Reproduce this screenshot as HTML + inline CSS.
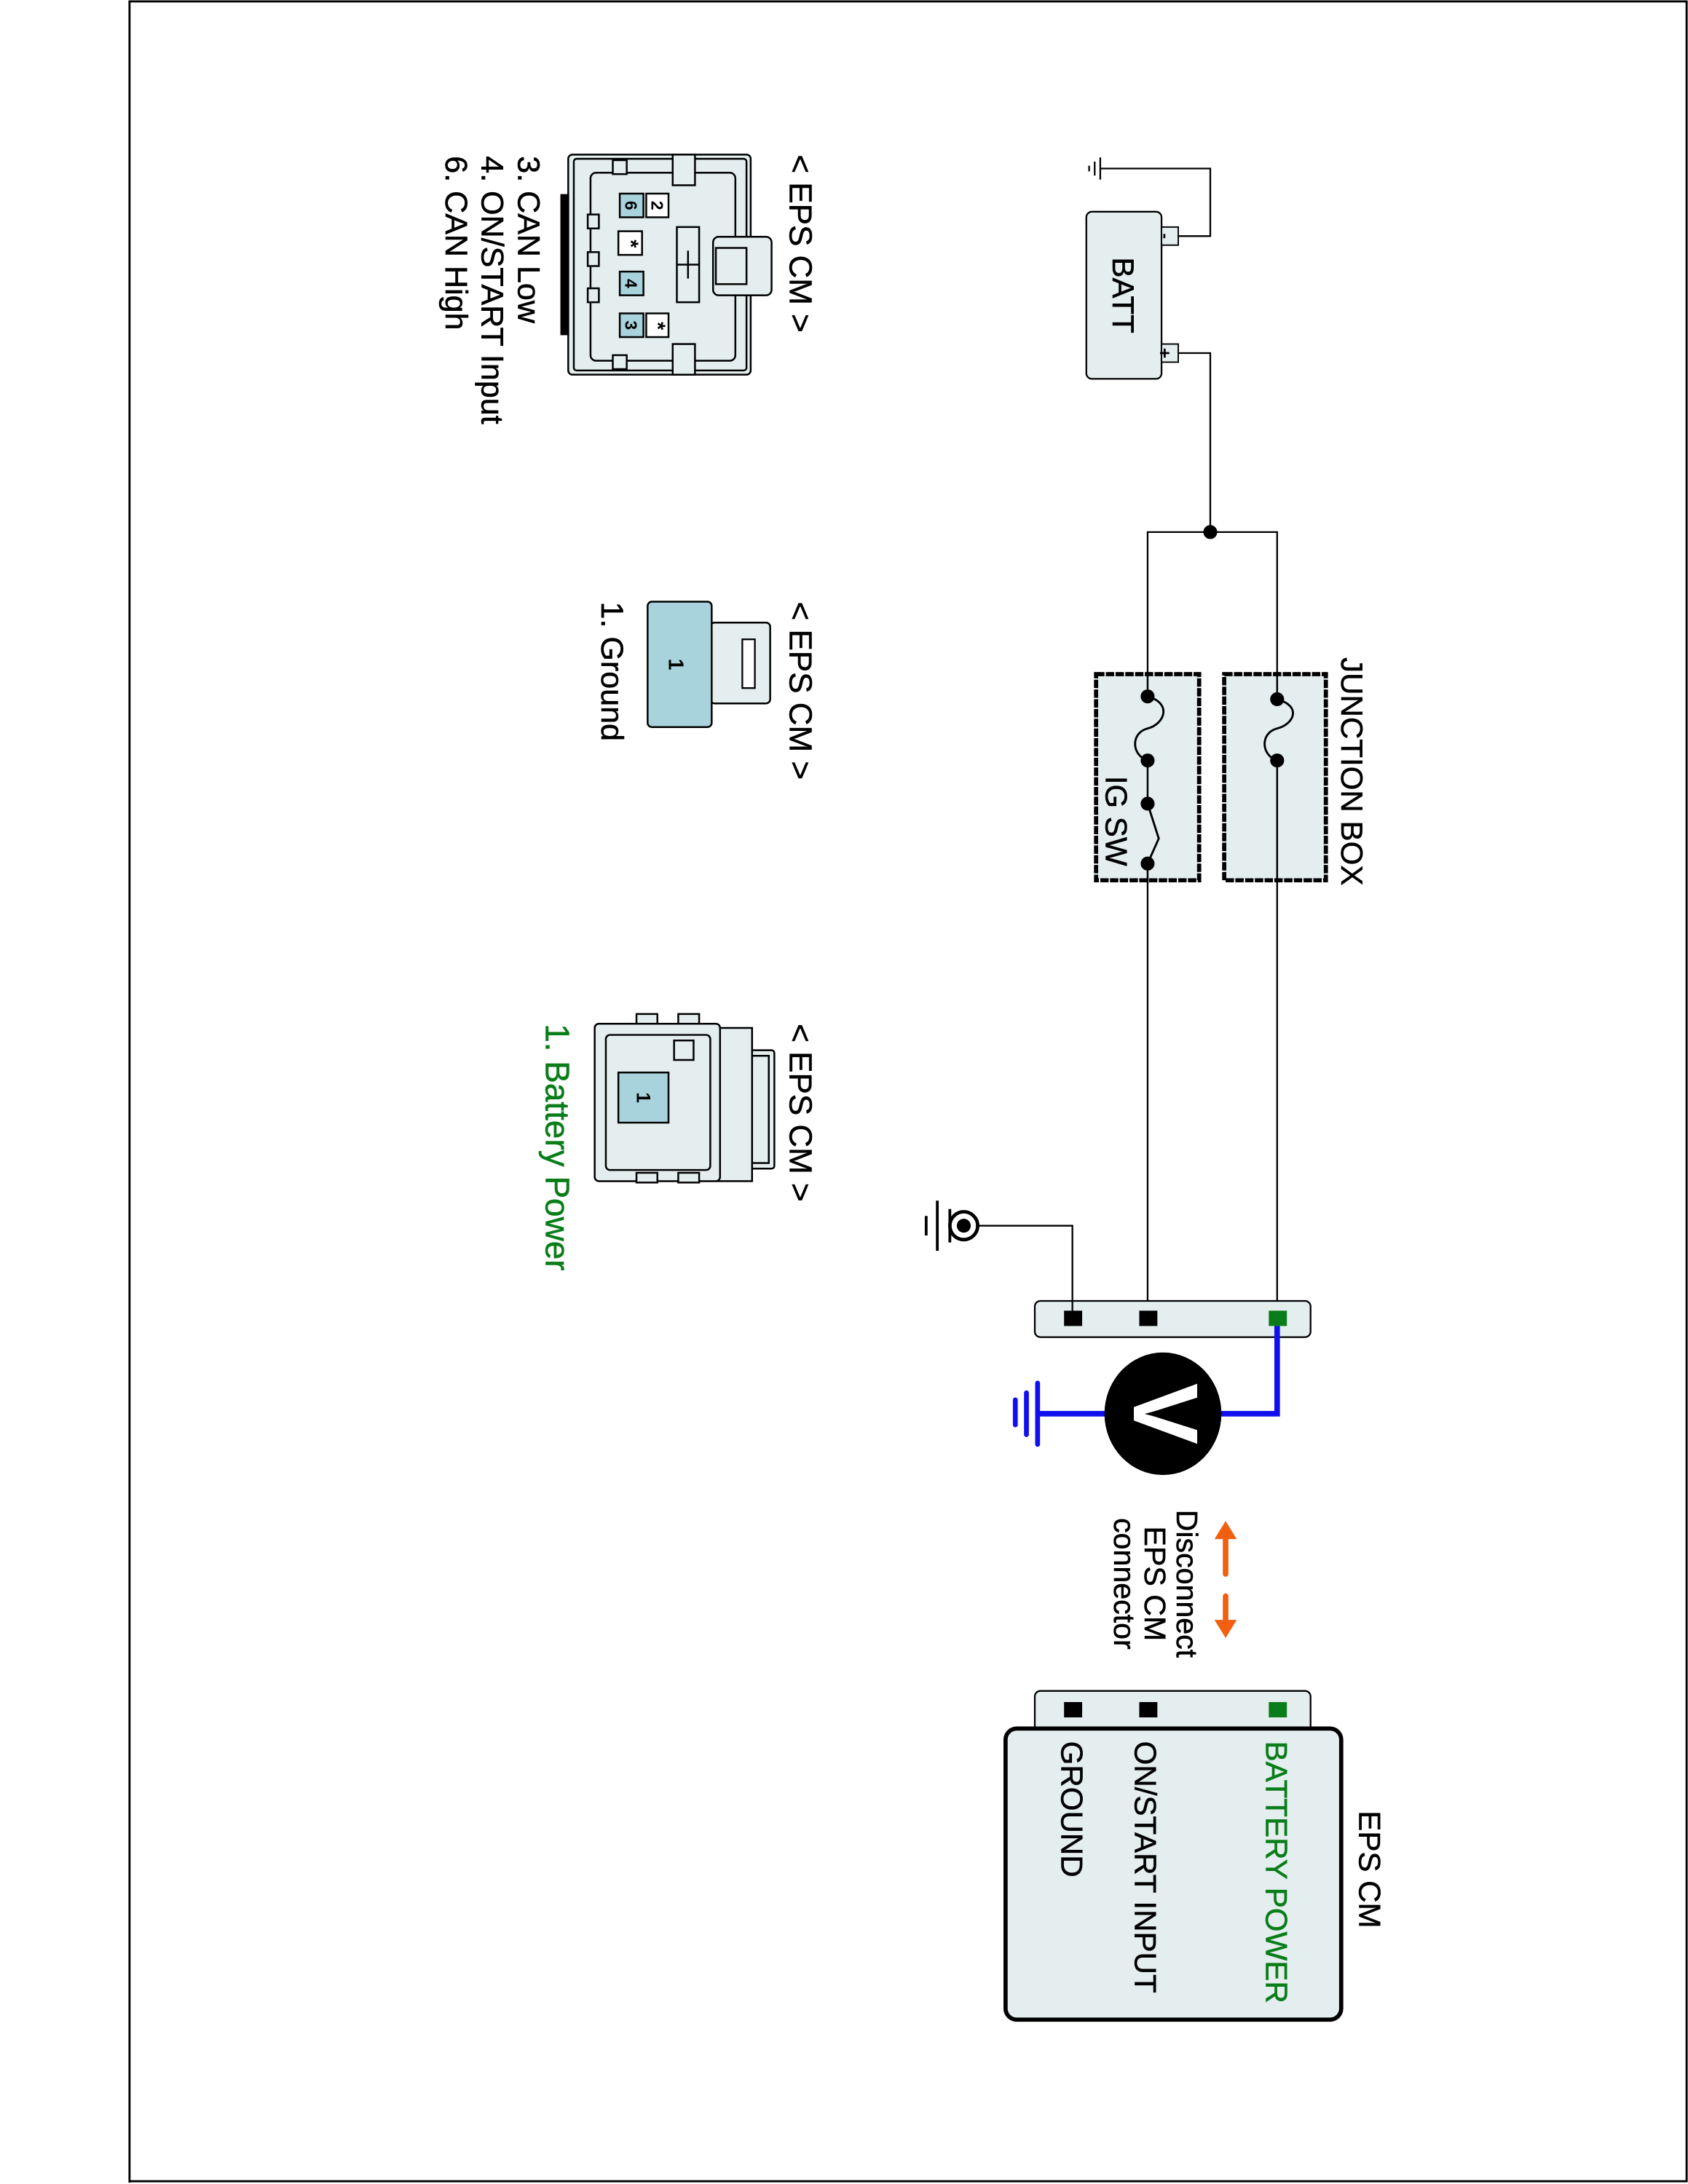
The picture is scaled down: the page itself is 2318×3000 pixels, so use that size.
<!DOCTYPE html>
<html><head><meta charset="utf-8"><style>
html,body{margin:0;padding:0;background:#fff}
svg{display:block}
text{font-family:"Liberation Sans",Arial,sans-serif}
</style></head><body>
<svg width="2318" height="3000" viewBox="0 0 1212 1568" preserveAspectRatio="none" xmlns="http://www.w3.org/2000/svg">
<rect x="0" y="0" width="1212" height="1568" fill="#fff"/>
<path d="M93,1567 V1 H1211 V1566 H93" fill="none" stroke="#000" stroke-width="1.5"/>

<!-- BATTERY -->
<rect x="780" y="152" width="54" height="120" rx="4" fill="#e4eeee" stroke="#000" stroke-width="1.2"/>
<rect x="834" y="163" width="12" height="13" fill="#e4eeee" stroke="#000" stroke-width="1"/>
<rect x="834" y="247" width="12" height="13" fill="#e4eeee" stroke="#000" stroke-width="1"/>
<text transform="translate(837,169.5) rotate(90)" font-size="12" font-weight="bold" text-anchor="middle" dominant-baseline="central">-</text>
<text transform="translate(836,253.5) rotate(90)" font-size="13" font-weight="bold" text-anchor="middle" dominant-baseline="central">+</text>
<text transform="translate(799,212) rotate(90)" font-size="22" text-anchor="middle" stroke="#000" stroke-width="0.3">BATT</text>
<path d="M846,169.5 H869 V121 H790" fill="none" stroke="#000" stroke-width="1.2"/>
<path d="M790,113 V129 M786,116 V126 M782,119 V123" stroke="#000" stroke-width="1.2"/>
<path d="M846,253.5 H869 V382" fill="none" stroke="#000" stroke-width="1.2"/>
<circle cx="869" cy="382" r="5" fill="#000"/>
<path d="M824,940 V382 H917 V940" fill="none" stroke="#000" stroke-width="1.2"/>

<!-- JUNCTION BOX -->
<rect x="787" y="484" width="74" height="148" fill="#e4eeee" stroke="#000" stroke-width="3" stroke-dasharray="6 1"/>
<rect x="879" y="484" width="73" height="148" fill="#e4eeee" stroke="#000" stroke-width="3" stroke-dasharray="6 1"/>
<path d="M824,482 V500 M824,546 V577 M824,620 V634" stroke="#000" stroke-width="1.3"/>
<path d="M917,482 V502 M917,546 V634" stroke="#000" stroke-width="1.3"/>
<path d="M824,500 C842,505 836,520 824,523 C812,526 812,542 824,546" fill="none" stroke="#000" stroke-width="1.5"/>
<path d="M917,502 C935,507 929,520 917,523 C905,526 905,542 917,546" fill="none" stroke="#000" stroke-width="1.5"/>
<path d="M824,577 L832,602 L824,620" fill="none" stroke="#000" stroke-width="1.5"/>
<circle cx="824" cy="500" r="5" fill="#000"/>
<circle cx="824" cy="546" r="5" fill="#000"/>
<circle cx="824" cy="577" r="5" fill="#000"/>
<circle cx="824" cy="620" r="5" fill="#000"/>
<circle cx="917" cy="502" r="5" fill="#000"/>
<circle cx="917" cy="546" r="5" fill="#000"/>
<text transform="translate(963,472) rotate(90)" font-size="22" stroke="#000" stroke-width="0.3">JUNCTION BOX</text>
<text transform="translate(794,557) rotate(90)" font-size="22" stroke="#000" stroke-width="0.3">IG SW</text>

<!-- upper connector bar -->
<rect x="743" y="934" width="198" height="26" rx="4" fill="#e4eeee" stroke="#000" stroke-width="1.2"/>
<rect x="764" y="941" width="13" height="11" fill="#000"/>
<rect x="818" y="941" width="13" height="11" fill="#000"/>
<rect x="911" y="941" width="13" height="11" fill="#0a7d1a"/>
<path d="M770,941 V880 H703" fill="none" stroke="#000" stroke-width="1.2"/>
<circle cx="692" cy="880" r="10" fill="#fff" stroke="#000" stroke-width="2.5"/>
<circle cx="692" cy="880" r="5" fill="#000"/>
<path d="M682,868 V892" stroke="#000" stroke-width="2"/>
<path d="M673,862 V898" stroke="#000" stroke-width="2"/>
<path d="M665,873 V887" stroke="#000" stroke-width="2"/>

<!-- voltmeter -->
<path d="M917,952 V1015 H875" fill="none" stroke="#1010ee" stroke-width="4"/>
<path d="M795,1015 H745" fill="none" stroke="#1010ee" stroke-width="4"/>
<path d="M745,993 V1037 M737,1000 V1030 M729,1005 V1023" stroke="#1010ee" stroke-width="3.5" stroke-linecap="round"/>
<ellipse cx="835" cy="1015" rx="42" ry="44" fill="#000"/>
<text transform="translate(814,1015) rotate(90)" font-size="66" font-weight="bold" fill="#fff" text-anchor="middle">V</text>

<!-- orange arrows -->
<path d="M880,1100 V1130 M880,1146 V1168" stroke="#f06010" stroke-width="4" stroke-linecap="round"/>
<path d="M872,1105 L880,1092 L888,1105 Z" fill="#f06010"/>
<path d="M872,1163 L880,1176 L888,1163 Z" fill="#f06010"/>
<text transform="translate(845,1137) rotate(90)" font-size="21.5" text-anchor="middle" stroke="#000" stroke-width="0.3">Disconnect</text>
<text transform="translate(822,1137) rotate(90)" font-size="21.5" text-anchor="middle" stroke="#000" stroke-width="0.3">EPS CM</text>
<text transform="translate(800,1137) rotate(90)" font-size="21.5" text-anchor="middle" stroke="#000" stroke-width="0.3">connector</text>

<!-- EPS CM module -->
<rect x="743" y="1214" width="198" height="40" rx="4" fill="#e4eeee" stroke="#000" stroke-width="1.2"/>
<rect x="764" y="1222" width="13" height="11" fill="#000"/>
<rect x="818" y="1222" width="13" height="11" fill="#000"/>
<rect x="911" y="1222" width="13" height="11" fill="#0a7d1a"/>
<rect x="722" y="1241" width="241" height="209" rx="8" fill="#e4eeee" stroke="#000" stroke-width="3"/>
<text transform="translate(909,1250) rotate(90)" font-size="22" fill="#0a7d1a" stroke="#0a7d1a" stroke-width="0.3">BATTERY POWER</text>
<text transform="translate(815,1250) rotate(90)" font-size="22" stroke="#000" stroke-width="0.3">ON/START INPUT</text>
<text transform="translate(762,1250) rotate(90)" font-size="22" stroke="#000" stroke-width="0.3">GROUND</text>
<text transform="translate(976,1300) rotate(90)" font-size="22" stroke="#000" stroke-width="0.3">EPS CM</text>

<!-- 6-pin connector -->
<g stroke="#000" stroke-width="1.3" fill="#e4eeee">
<rect x="408" y="111" width="131" height="158" rx="3"/>
<rect x="412" y="114" width="124" height="152" rx="2" fill="none"/>
<rect x="424" y="124" width="104" height="135" rx="4"/>
<rect x="512" y="170" width="42" height="42" rx="4"/>
<rect x="514" y="178" width="22" height="26"/>
<rect x="486" y="163" width="16" height="54"/>
<path d="M486,190 H502 M494,180 V200" fill="none"/>
<rect x="440" y="115" width="10" height="10"/>
<rect x="440" y="255" width="10" height="10"/>
<rect x="483" y="111" width="16" height="22"/>
<rect x="483" y="247" width="16" height="22"/>
<rect x="422" y="154" width="8" height="10"/>
<rect x="422" y="181" width="8" height="10"/>
<rect x="422" y="207" width="8" height="10"/>
<rect x="403" y="140" width="5" height="100" fill="#000"/>
<rect x="445" y="139" width="17" height="17" fill="#a8d2dc"/>
<rect x="464" y="139" width="16" height="17" fill="#fff"/>
<rect x="444" y="166" width="17" height="17" fill="#fff"/>
<rect x="445" y="195" width="17" height="17" fill="#a8d2dc"/>
<rect x="445" y="225" width="17" height="17" fill="#a8d2dc"/>
<rect x="464" y="225" width="16" height="17" fill="#fff"/>
</g>
<g font-size="12" font-weight="bold" text-anchor="middle" dominant-baseline="central">
<text transform="translate(453,147.5) rotate(90)">6</text>
<text transform="translate(472,147.5) rotate(90)">2</text>
<text transform="translate(452.5,175) rotate(90)" font-size="15">*</text>
<text transform="translate(453,203.5) rotate(90)">4</text>
<text transform="translate(453,233.5) rotate(90)">3</text>
<text transform="translate(472,234) rotate(90)" font-size="15">*</text>
</g>
<text transform="translate(567,111) rotate(90)" font-size="23" stroke="#000" stroke-width="0.3">&lt; EPS CM &gt;</text>
<text transform="translate(372,112) rotate(90)" font-size="22.5" stroke="#000" stroke-width="0.3">3. CAN Low</text>
<text transform="translate(346,112) rotate(90)" font-size="22.5" stroke="#000" stroke-width="0.3">4. ON/START Input</text>
<text transform="translate(320,112) rotate(90)" font-size="22.5" stroke="#000" stroke-width="0.3">6. CAN High</text>

<!-- 1-pin ground connector -->
<rect x="510" y="447" width="43" height="58" rx="3" fill="#e4eeee" stroke="#000" stroke-width="1.3"/>
<rect x="533" y="459" width="9" height="35" fill="#fff" stroke="#000" stroke-width="1.2"/>
<rect x="465" y="432" width="46" height="90" rx="3" fill="#a8d2dc" stroke="#000" stroke-width="1.3"/>
<text transform="translate(485,477) rotate(90)" font-size="15" font-weight="bold" text-anchor="middle" dominant-baseline="central">1</text>
<text transform="translate(567,432) rotate(90)" font-size="23" stroke="#000" stroke-width="0.3">&lt; EPS CM &gt;</text>
<text transform="translate(432,432) rotate(90)" font-size="22.5" stroke="#000" stroke-width="0.3">1. Ground</text>

<!-- 1-pin battery connector -->
<g stroke="#000" stroke-width="1.3" fill="#e4eeee">
<rect x="514" y="754" width="42" height="85" rx="2"/>
<rect x="540" y="758" width="12" height="77" fill="none"/>
<rect x="515" y="738" width="25" height="110" fill="#e4eeee"/>
<rect x="427" y="735" width="90" height="113" rx="3"/>
<rect x="435" y="743" width="75" height="97" rx="3"/>
<rect x="484" y="747" width="14" height="14"/>
<rect x="444" y="770" width="36" height="36" fill="#a8d2dc"/>
<rect x="457" y="842" width="15" height="7"/>
<rect x="457" y="728" width="15" height="7"/>
<rect x="487" y="842" width="15" height="7"/>
<rect x="487" y="728" width="15" height="7"/>
</g>
<text transform="translate(462,788) rotate(90)" font-size="14" font-weight="bold" text-anchor="middle" dominant-baseline="central">1</text>
<text transform="translate(567,735) rotate(90)" font-size="23" stroke="#000" stroke-width="0.3">&lt; EPS CM &gt;</text>
<text transform="translate(392,735) rotate(90)" font-size="24" fill="#0a7d1a" stroke="#0a7d1a" stroke-width="0.3">1. Battery Power</text>
</svg>
</body></html>
